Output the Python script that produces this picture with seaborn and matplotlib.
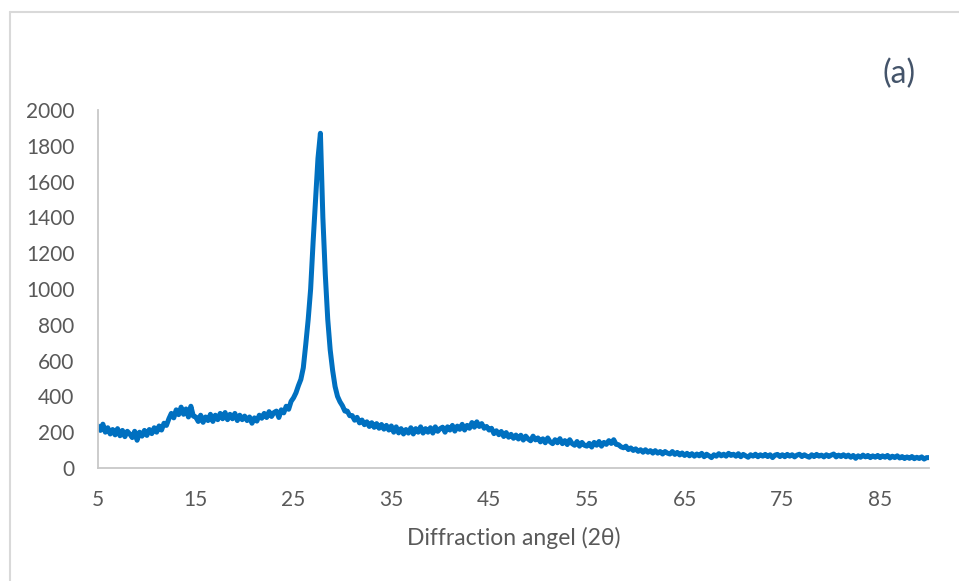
import numpy as np
import pandas as pd
import matplotlib
matplotlib.use("Agg")
import matplotlib.pyplot as plt
from matplotlib.lines import Line2D
import seaborn as sns

# ---- data (intensity, 0.25 degree steps from 5 to 90) ----
two_theta = np.arange(5.0, 90.001, 0.25)
intensity = [
    235, 210, 245, 200, 225, 190, 215, 185, 220, 180, 210, 175, 205, 190, 170, 205, 155, 200, 178, 210,
    182, 215, 192, 225, 200, 235, 212, 250, 238, 275, 305, 280, 325, 298, 340, 300, 330, 285, 345, 290,
    285, 260, 295, 255, 285, 265, 300, 260, 295, 270, 305, 275, 310, 270, 300, 275, 305, 265, 295, 270,
    290, 265, 285, 250, 280, 262, 295, 278, 305, 282, 315, 288, 310, 318, 282, 325, 308, 345, 328, 372,
    392, 420, 460, 495, 560, 690, 830, 1000, 1260, 1500, 1730, 1870, 1400, 1080, 830, 660, 545, 455, 400, 370,
    348, 318, 318, 292, 293, 267, 283, 252, 268, 242, 258, 232, 253, 227, 248, 222, 243, 217, 238, 212,
    235, 200, 230, 196, 220, 190, 215, 195, 225, 190, 220, 200, 230, 195, 220, 200, 225, 195, 230, 205,
    220, 228, 200, 230, 212, 238, 206, 234, 216, 244, 212, 238, 222, 254, 228, 258, 232, 248, 222, 232,
    212, 222, 192, 208, 186, 204, 176, 198, 172, 188, 166, 184, 162, 183, 156, 178, 162, 152, 178, 157,
    168, 146, 163, 141, 168, 146, 136, 158, 141, 164, 136, 153, 131, 158, 136, 127, 148, 122, 143, 127,
    122, 138, 117, 143, 127, 148, 122, 143, 132, 153, 137, 158, 132, 130, 118, 113, 122, 103, 112, 98,
    107, 93, 102, 88, 102, 88, 97, 83, 97, 83, 92, 78, 92, 83, 78, 92, 76, 87, 73, 84,
    70, 82, 68, 80, 66, 78, 68, 82, 63, 77, 68, 58, 74, 66, 80, 68, 77, 66, 82, 70,
    77, 66, 80, 63, 76, 68, 60, 74, 66, 77, 63, 74, 66, 76, 64, 74, 58, 72, 76, 64,
    74, 63, 76, 66, 74, 62, 72, 77, 64, 74, 66, 60, 74, 64, 76, 66, 72, 62, 74, 64,
    72, 78, 62, 72, 64, 74, 63, 72, 60, 70, 54, 68, 60, 72, 62, 70, 58, 68, 60, 70,
    58, 68, 60, 70, 56, 66, 58, 68, 56, 64, 53, 62, 54, 64, 52, 60, 53, 62, 50, 58,
    58,
]
x_ticks = [5, 15, 25, 35, 45, 55, 65, 75, 85]
y_ticks = [0, 200, 400, 600, 800, 1000, 1200, 1400, 1600, 1800, 2000]
x_label = "Diffraction angel (2θ)"
panel_label = "(a)"

df = pd.DataFrame({"two_theta": two_theta, "intensity": intensity})

sns.set_theme(style="white")
plt.rcParams["font.family"] = ["Lato", "DejaVu Sans"]

W, H = 959, 581
fig = plt.figure(figsize=(W / 100, H / 100), dpi=100)
ax = fig.add_axes([98 / W, 1 - 468 / H, (929 - 98) / W, (468 - 110) / H])

sns.lineplot(data=df, x="two_theta", y="intensity", ax=ax, color="#0070C0",
             linewidth=3.6, solid_joinstyle="round", solid_capstyle="round")

ax.set_xlim(5, 90)
ax.set_ylim(0, 2000)
ax.set_xticks(x_ticks)
ax.set_yticks(y_ticks)
ax.tick_params(axis="both", length=0, labelsize=15, labelcolor="#595959")
ax.tick_params(axis="y", pad=17)
ax.tick_params(axis="x", pad=16)
ax.set_xlabel(x_label, fontsize=16.5, color="#595959", labelpad=12)
ax.set_ylabel("")

for side in ["top", "right"]:
    ax.spines[side].set_visible(False)
for side in ["left", "bottom"]:
    ax.spines[side].set_color("#C8C8C8")
    ax.spines[side].set_linewidth(1.3)

# chart-area border (left and top visible)
fig.add_artist(Line2D([9.5 / W, 9.5 / W], [0, 1 - 11.5 / H], transform=fig.transFigure,
                      color="#D9D9D9", linewidth=1.5))
fig.add_artist(Line2D([9.5 / W, 1], [1 - 11.5 / H, 1 - 11.5 / H], transform=fig.transFigure,
                      color="#D9D9D9", linewidth=1.5))

fig.text(899 / W, 1 - 74 / H, panel_label, fontsize=23, color="#44546A",
         ha="center", va="center")

fig.savefig("out.png", dpi=100, facecolor="white")
